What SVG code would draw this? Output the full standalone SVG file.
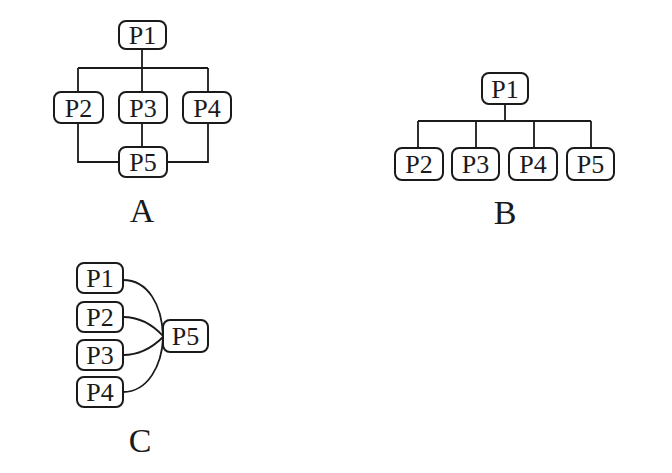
<svg xmlns="http://www.w3.org/2000/svg" width="672" height="473" viewBox="0 0 672 473">
<style>
.box{fill:#fff;stroke:#1a1a1a;stroke-width:2}
.t{font-family:"Liberation Serif","Times New Roman",serif;font-size:26px;fill:#1a1a1a;text-anchor:middle}
.lbl{font-family:"Liberation Serif","Times New Roman",serif;font-size:34px;fill:#1a1a1a;text-anchor:middle}
.ln{fill:none;stroke:#1a1a1a;stroke-width:1.8}
</style>
<rect width="672" height="473" fill="#fff"/>
<g id="connectors">
<path class="ln" d="M142,49 V68 M78,68 H208 M78,68 V92 M142,68 V92 M208,68 V92 M78,123 V162 H119 M208,123 V162 H167 M142,123 V147"/>
<path class="ln" d="M505,104 V121 M418,121 H591 M418,121 V148 M476,121 V148 M534,121 V148 M591,121 V148"/>
<path class="ln" d="M123,280 C148,280 162,305 163,336 M123,317 C140,317 152,324 163,336 M123,355 C140,355 152,348 163,337 M123,392 C148,392 162,365 163,338"/>
</g>
<g id="A-P1"><rect class="box" x="119" y="21" width="47" height="28" rx="7"/><text class="t" x="142.5" y="44">P1</text></g>
<g id="A-P2"><rect class="box" x="54" y="92" width="49" height="31" rx="7"/><text class="t" x="78.5" y="116.5">P2</text></g>
<g id="A-P3"><rect class="box" x="119" y="92" width="48" height="31" rx="7"/><text class="t" x="143" y="116.5">P3</text></g>
<g id="A-P4"><rect class="box" x="183" y="92" width="48" height="31" rx="7"/><text class="t" x="207" y="116.5">P4</text></g>
<g id="A-P5"><rect class="box" x="119" y="147" width="48" height="30" rx="7"/><text class="t" x="143" y="171">P5</text></g>
<text class="lbl" x="142" y="222">A</text>
<g id="B-P1"><rect class="box" x="482" y="73" width="46" height="31" rx="7"/><text class="t" x="505" y="97.5">P1</text></g>
<g id="B-P2"><rect class="box" x="395" y="148" width="48" height="32" rx="7"/><text class="t" x="419" y="173">P2</text></g>
<g id="B-P3"><rect class="box" x="452" y="148" width="47" height="32" rx="7"/><text class="t" x="475.5" y="173">P3</text></g>
<g id="B-P4"><rect class="box" x="509" y="148" width="48" height="32" rx="7"/><text class="t" x="533" y="173">P4</text></g>
<g id="B-P5"><rect class="box" x="567" y="148" width="47" height="32" rx="7"/><text class="t" x="590.5" y="173">P5</text></g>
<text class="lbl" x="505" y="224">B</text>
<g id="C-P1"><rect class="box" x="77" y="263" width="46" height="30" rx="7"/><text class="t" x="100" y="287">P1</text></g>
<g id="C-P2"><rect class="box" x="77" y="302" width="46" height="30" rx="7"/><text class="t" x="100" y="326">P2</text></g>
<g id="C-P3"><rect class="box" x="77" y="340" width="46" height="30" rx="7"/><text class="t" x="100" y="364">P3</text></g>
<g id="C-P4"><rect class="box" x="77" y="377" width="46" height="30" rx="7"/><text class="t" x="100" y="401">P4</text></g>
<g id="C-P5"><rect class="box" x="163" y="320" width="45" height="32" rx="7"/><text class="t" x="185.5" y="345">P5</text></g>
<text class="lbl" x="140" y="452">C</text>
</svg>
